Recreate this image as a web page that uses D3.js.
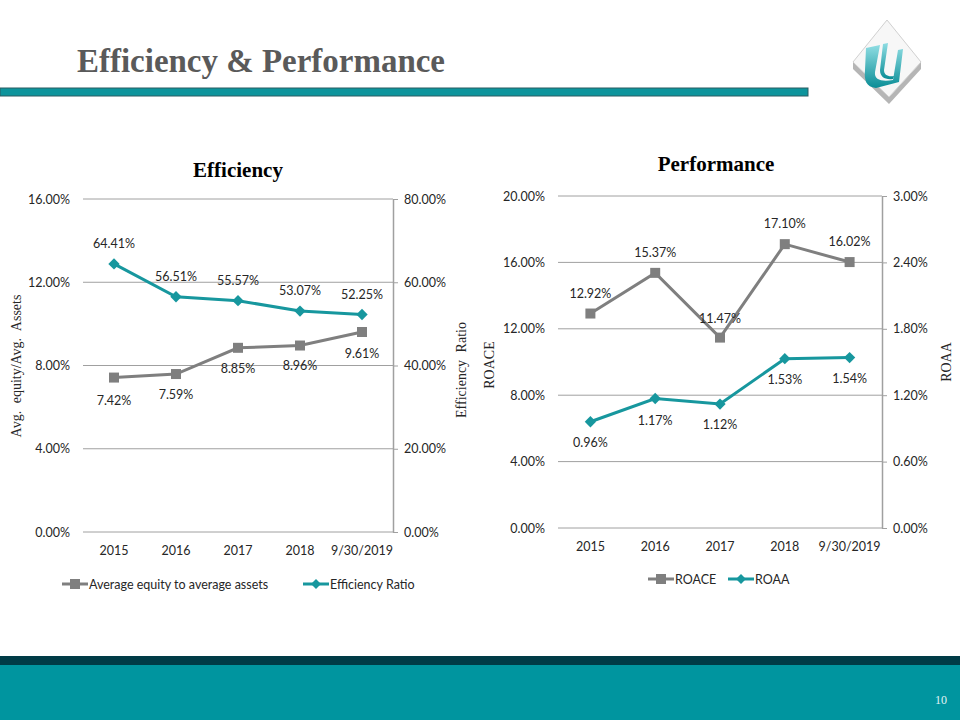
<!DOCTYPE html>
<html><head><meta charset="utf-8">
<script src="https://cdn.jsdelivr.net/npm/d3@7"></script>
<style>body{margin:0;background:#fff}svg{display:block}</style>
</head><body>
<script>
const categories = ["2015","2016","2017","2018","9/30/2019"];
const avgEquity = [7.42, 7.59, 8.85, 8.96, 9.61];
const efficiencyRatio = [64.41, 56.51, 55.57, 53.07, 52.25];
const roace = [12.92, 15.37, 11.47, 17.10, 16.02];
const roaa = [0.96, 1.17, 1.12, 1.53, 1.54];
const effLeftTicks = [0, 4, 8, 12, 16];
const effRightTicks = [0, 20, 40, 60, 80];
const perfLeftTicks = [0, 4, 8, 12, 16, 20];
const perfRightTicks = [0, 0.6, 1.2, 1.8, 2.4, 3.0];

const W = 960, H = 720;
const svg = d3.select("body").append("svg").attr("width", W).attr("height", H);
const TEAL = "#17979e", GRAY = "#7f7f7f", GRID = "#a0a0a0", TXT = "#262626";
const FONT = "Lato, 'Open Sans', sans-serif";
const SERIF = "'Liberation Serif', 'DejaVu Serif', serif";

// Header
svg.append("text").attr("x", 77).attr("y", 72).text("Efficiency & Performance")
  .attr("font-family", SERIF).attr("font-weight", "bold").attr("font-size", 33).attr("fill", "#5a5a5a")
  .attr("textLength", 368).attr("lengthAdjust", "spacingAndGlyphs");
svg.append("rect").attr("x", 0).attr("y", 88).attr("width", 808).attr("height", 8)
  .attr("fill", "#0d949c").attr("stroke", "#2b5d63").attr("stroke-width", 1);

// Logo
const defs = svg.append("defs");
const lg = defs.append("linearGradient").attr("id", "ug").attr("x1", 0).attr("y1", 0).attr("x2", 0).attr("y2", 1);
lg.append("stop").attr("offset", "0%").attr("stop-color", "#8fdde3");
lg.append("stop").attr("offset", "100%").attr("stop-color", "#0a8d96");
const logo = svg.append("g");
logo.append("polygon").attr("points", "853,62 889,97 921,62 921,69 889,104 853,69").attr("fill", "#b5b5b5");
logo.append("polygon").attr("points", "853,62 887,20 921,62 889,97").attr("fill", "#f7f7f7").attr("stroke", "#d0d0d0");
logo.append("path").attr("d", "M866,48 L880,45 L875,72 C874,80 882,82 893,80 L898,50 L903,49 L899,82 L876,88 C866,87 864,80 865,70 Z")
  .attr("fill", "url(#ug)");
logo.append("path").attr("d", "M883,44 L888,43 L884,70 C884,75 888,77 894,76 L893,79 C885,80 880,77 880,70 Z")
  .attr("fill", "url(#ug)");

// Footer
svg.append("rect").attr("x", 0).attr("y", 656).attr("width", W).attr("height", 9).attr("fill", "#003b46");
svg.append("rect").attr("x", 0).attr("y", 665).attr("width", W).attr("height", 55).attr("fill", "#00959f");
svg.append("text").attr("x", 947).attr("y", 704).attr("text-anchor", "end").text("10")
  .attr("font-family", SERIF).attr("font-size", 12).attr("fill", "#e0f4f5");

function chart(opt) {
  const g = svg.append("g");
  const x = d3.scaleBand().domain(categories).range([opt.x0, opt.x1]);
  const yL = d3.scaleLinear().domain([0, opt.lMax]).range([opt.y0, opt.y1]);
  const yR = d3.scaleLinear().domain([0, opt.rMax]).range([opt.y0, opt.y1]);
  g.append("text").attr("x", opt.titleX).attr("y", opt.titleY).attr("text-anchor", "middle").text(opt.title)
    .attr("font-family", SERIF).attr("font-weight", "bold").attr("font-size", 21).attr("fill", "#000");
  g.selectAll(".grid").data(opt.lTicks).join("line")
    .attr("x1", opt.x0).attr("x2", opt.x1).attr("y1", d => yL(d)).attr("y2", d => yL(d))
    .attr("stroke", GRID).attr("stroke-width", 1);
  const la = g.append("g").attr("transform", `translate(${opt.x0},0)`)
    .call(d3.axisLeft(yL).tickValues(opt.lTicks).tickFormat(d => d3.format(".2f")(d) + "%").tickSize(0).tickPadding(13));
  la.select(".domain").remove();
  la.selectAll("text").attr("font-family", FONT).attr("font-size", 12.5).attr("fill", TXT);
  const ra = g.append("g").attr("transform", `translate(${opt.x1},0)`)
    .call(d3.axisRight(yR).tickValues(opt.rTicks).tickFormat(d => d3.format(".2f")(d) + "%").tickSize(5).tickSizeOuter(0).tickPadding(6));
  ra.select(".domain").attr("stroke", GRID).attr("stroke-width", 1.5);
  ra.selectAll("line").attr("stroke", GRID);
  ra.selectAll("text").attr("font-family", FONT).attr("font-size", 12.5).attr("fill", TXT);
  const xa = g.append("g").attr("transform", `translate(0,${opt.y0})`)
    .call(d3.axisBottom(x).tickSize(0).tickPadding(14));
  xa.select(".domain").remove();
  xa.selectAll("text").attr("font-family", FONT).attr("font-size", 12.5).attr("fill", TXT);
  g.append("text").attr("transform", `translate(${opt.lTitleX},${opt.lTitleY}) rotate(-90)`).attr("text-anchor", "middle")
    .text(opt.lTitle).attr("font-family", SERIF).attr("font-size", 14).attr("fill", TXT).attr("word-spacing", 4);
  g.append("text").attr("transform", `translate(${opt.rTitleX},${opt.rTitleY}) rotate(-90)`).attr("text-anchor", "middle")
    .text(opt.rTitle).attr("font-family", SERIF).attr("font-size", 14).attr("fill", TXT).attr("word-spacing", 4);

  const cx = (d, i) => x(categories[i]) + x.bandwidth() / 2;
  const series = [
    {vals: opt.sqVals, y: opt.sqScale === "L" ? yL : yR, color: GRAY, shape: "sq", labelDy: opt.sqDy},
    {vals: opt.dmVals, y: opt.dmScale === "L" ? yL : yR, color: TEAL, shape: "dm", labelDy: opt.dmDy}
  ];
  series.forEach(s => {
    const line = d3.line().x((d, i) => cx(d, i)).y(d => s.y(d));
    g.append("path").datum(s.vals).attr("d", line).attr("fill", "none").attr("stroke", s.color).attr("stroke-width", 3);
    g.selectAll(null).data(s.vals).join("path")
      .attr("transform", (d, i) => `translate(${cx(d, i)},${s.y(d)})${s.shape === "dm" ? " rotate(45)" : ""}`)
      .attr("d", s.shape === "sq" ? "M-5,-5H5V5H-5Z" : "M-4,-4H4V4H-4Z").attr("fill", s.color);
    g.selectAll(null).data(s.vals).join("text")
      .attr("x", (d, i) => cx(d, i)).attr("y", (d, i) => s.y(d) + s.labelDy[i]).attr("text-anchor", "middle")
      .text(d => d3.format(".2f")(d) + "%").attr("font-family", FONT).attr("font-size", 12.5).attr("fill", TXT);
  });
  opt.legend.forEach(l => {
    g.append("line").attr("x1", l.x).attr("x2", l.x + 26).attr("y1", opt.legY).attr("y2", opt.legY).attr("stroke", l.color).attr("stroke-width", 3);
    g.append("path").attr("transform", `translate(${l.x + 13},${opt.legY})${l.shape === "dm" ? " rotate(45)" : ""}`)
      .attr("d", l.shape === "sq" ? "M-5,-5H5V5H-5Z" : "M-3.5,-3.5H3.5V3.5H-3.5Z").attr("fill", l.color);
    g.append("text").attr("x", l.x + 27).attr("y", opt.legY + 4.5).text(l.text)
      .attr("font-family", FONT).attr("font-size", 12.5).attr("fill", TXT);
  });
}

chart({
  x0: 83, x1: 393, y0: 532, y1: 199, lMax: 16, rMax: 80,
  lTicks: effLeftTicks, rTicks: effRightTicks,
  title: "Efficiency", titleX: 238, titleY: 177,
  lTitle: "Avg. equity/Avg. Assets", lTitleX: 21, lTitleY: 366,
  rTitle: "Efficiency Ratio", rTitleX: 466, rTitleY: 370,
  sqVals: avgEquity, sqScale: "L", sqDy: [27, 25, 25, 24, 26],
  dmVals: efficiencyRatio, dmScale: "R", dmDy: [-16, -16, -16, -16, -16],
  legY: 584,
  legend: [{x: 62, color: GRAY, shape: "sq", text: "Average equity to average assets"},
           {x: 303, color: TEAL, shape: "dm", text: "Efficiency Ratio"}]
});

chart({
  x0: 558, x1: 882, y0: 528, y1: 196, lMax: 20, rMax: 3,
  lTicks: perfLeftTicks, rTicks: perfRightTicks,
  title: "Performance", titleX: 716, titleY: 171,
  lTitle: "ROACE", lTitleX: 494, lTitleY: 365,
  rTitle: "ROAA", rTitleX: 951, rTitleY: 362,
  sqVals: roace, sqScale: "L", sqDy: [-16, -16, -15, -16, -16],
  dmVals: roaa, dmScale: "R", dmDy: [25, 26, 25, 25, 25],
  legY: 579,
  legend: [{x: 648, color: GRAY, shape: "sq", text: "ROACE"},
           {x: 728, color: TEAL, shape: "dm", text: "ROAA"}]
});
</script>
</body></html>
